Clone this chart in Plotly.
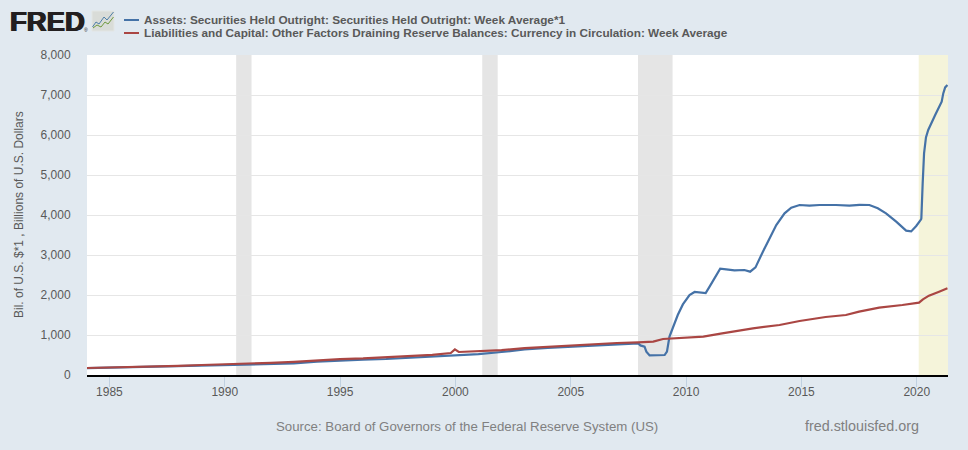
import pandas as pd
import plotly.graph_objects as go

W, H = 968, 450
L, R, T, B = 87, 948, 55, 375

blue_years = [1984.03, 1985, 1986, 1987, 1988, 1989, 1990, 1991, 1992, 1993, 1994, 1995, 1996, 1997, 1998, 1999,
              1999.98, 2000.5, 2001, 2002, 2003, 2004, 2005, 2006, 2007, 2007.93, 2008.02, 2008.2, 2008.28, 2008.42,
              2009.07, 2009.17, 2009.28, 2009.64, 2009.86, 2010.15, 2010.37, 2010.85, 2011.02, 2011.48, 2011.74,
              2012.1, 2012.53, 2012.78, 2013.01, 2013.33, 2013.91, 2014.27, 2014.56, 2014.92, 2015.35, 2015.79,
              2016.5, 2017.08, 2017.52, 2017.95, 2018.31, 2018.67, 2019.11, 2019.54, 2019.76, 2019.98, 2020.19,
              2020.2, 2020.26, 2020.32, 2020.4, 2020.5, 2020.8, 2021.08, 2021.15, 2021.23, 2021.33]
blue_values = [170, 182, 198, 213, 228, 240, 235, 255, 270, 290, 335, 368, 385, 400, 430, 460,
               500, 505, 520, 575, 640, 680, 705, 735, 770, 790, 740, 710, 585, 490,
               500, 585, 960, 1500, 1765, 2000, 2075, 2050, 2210, 2657, 2640,
               2617, 2625, 2583, 2690, 3083, 3750, 4042, 4183, 4250, 4233, 4250,
               4250, 4235, 4255, 4250, 4167, 4040, 3833, 3608, 3590, 3725, 3892,
               3917, 4790, 5540, 5940, 6125, 6500, 6833, 7040, 7190, 7250]

red_years = [1984.03, 1985, 1986, 1987, 1988, 1989, 1990, 1991, 1992, 1993, 1994, 1995, 1996, 1997, 1998, 1999,
             1999.8, 1999.98, 2000.15, 2001, 2002, 2003, 2004, 2005, 2006, 2007, 2007.93, 2008.58, 2009.0, 2010,
             2010.75, 2011.5, 2012.9, 2014.05, 2014.92, 2016.05, 2016.93, 2017.5, 2018.37, 2019.38, 2020.1,
             2020.27, 2020.53, 2020.97, 2021.33]
red_values = [175, 185, 200, 215, 230, 250, 265, 290, 305, 330, 365, 398, 415, 440, 475, 505,
              550, 640, 575, 590, 620, 670, 705, 745, 770, 800, 817, 833, 900, 933,
              960, 1033, 1167, 1250, 1350, 1450, 1500, 1583, 1683, 1750, 1808,
              1892, 1983, 2083, 2167]

x_tick_years = [1985, 1990, 1995, 2000, 2005, 2010, 2015, 2020]
y_tick_values = [0, 1000, 2000, 3000, 4000, 5000, 6000, 7000, 8000]
recessions = [("1990-07-01", "1991-03-01"), ("2001-03-01", "2001-11-01"), ("2007-12-01", "2009-06-01")]
highlight = ("2020-02-01", "2021-05-10")
x_range = ("1984-01-12", "2021-05-10")

series_1 = "Assets: Securities Held Outright: Securities Held Outright: Week Average*1"
series_2 = "Liabilities and Capital: Other Factors Draining Reserve Balances: Currency in Circulation: Week Average"
y_title = "Bil. of U.S. $*1 , Billions of U.S. Dollars"
source = "Source: Board of Governors of the Federal Reserve System (US)"
site = "fred.stlouisfed.org"

BG = "#e1e9f0"
BLUE = "#4572a7"
RED = "#aa4643"
TEXT = "#595959"
FONT = "Liberation Sans, Arial, sans-serif"


def to_dates(years):
    out = []
    for y in years:
        year = int(y)
        start = pd.Timestamp(year=year, month=1, day=1)
        out.append((start + pd.Timedelta(days=(y - year) * 365.25)).strftime("%Y-%m-%d"))
    return out


def px(x):
    return (x - L) / (R - L)


def py(y):
    return (B - y) / (B - T)


fig = go.Figure()
fig.add_trace(go.Scatter(x=to_dates(blue_years), y=blue_values, name=series_1, mode="lines",
                         line=dict(color=BLUE, width=2.2)))
fig.add_trace(go.Scatter(x=to_dates(red_years), y=red_values, name=series_2, mode="lines",
                         line=dict(color=RED, width=2.2)))

shapes = []
for a, b in recessions:
    shapes.append(dict(type="rect", xref="x", yref="paper", x0=a, x1=b, y0=0, y1=1,
                       fillcolor="#e5e5e5", line_width=0, layer="below"))
shapes.append(dict(type="rect", xref="x", yref="paper", x0=highlight[0], x1=highlight[1], y0=0, y1=1,
                   fillcolor="#f5f4da", line_width=0, layer="below"))

# legend keys
shapes.append(dict(type="line", xref="paper", yref="paper", x0=px(124), x1=px(139), y0=py(20), y1=py(20),
                   line=dict(color=BLUE, width=2)))
shapes.append(dict(type="line", xref="paper", yref="paper", x0=px(124), x1=px(139), y0=py(33), y1=py(33),
                   line=dict(color=RED, width=2)))
# logo icon
shapes.append(dict(type="rect", xref="paper", yref="paper", x0=px(92), x1=px(114), y0=py(31), y1=py(11),
                   fillcolor="#d9dcd8", line=dict(color="#e3e6e4", width=1)))


def path(points):
    return "M " + " L ".join(f"{px(a)} {py(b)}" for a, b in points)


shapes.append(dict(type="path", xref="paper", yref="paper",
                   path=path([(92.5, 27), (96, 22), (99, 24), (104, 17), (107, 20), (113.5, 12)]),
                   line=dict(color="#4f7fa8", width=1)))
shapes.append(dict(type="path", xref="paper", yref="paper",
                   path=path([(93, 28), (97, 25), (101, 27), (105, 22), (108, 24), (113.5, 17)]),
                   line=dict(color="#6f9a3e", width=1)))

annotations = [
    dict(text=f"<b>{series_1}</b>", x=px(144), y=py(20), xanchor="left", yanchor="middle",
         font=dict(size=11.8, color=TEXT)),
    dict(text=f"<b>{series_2}</b>", x=px(144), y=py(33), xanchor="left", yanchor="middle",
         font=dict(size=11.75, color=TEXT)),
    dict(text="<b>FRED</b>", x=px(10), y=py(21), xanchor="left", yanchor="middle",
         font=dict(size=27.5, color="#231f20", shadow="0.7px 0 0 #231f20, -0.7px 0 0 #231f20")),
    dict(text="®", x=px(86), y=py(29.5), xanchor="center", yanchor="middle",
         font=dict(size=5, color="#231f20")),
    dict(text=y_title, x=px(19), y=py(215), textangle=-90, xanchor="center", yanchor="middle",
         font=dict(size=12, color=TEXT)),
    dict(text=source, x=px(276), y=py(426), xanchor="left", yanchor="middle",
         font=dict(size=13.25, color="#808080")),
    dict(text=site, x=px(805), y=py(426), xanchor="left", yanchor="middle",
         font=dict(size=14.35, color="#808080")),
]
for a in annotations:
    a.update(xref="paper", yref="paper", showarrow=False, borderpad=0, borderwidth=0)

fig.update_layout(
    width=W, height=H, autosize=False,
    margin=dict(l=L, r=W - R, t=T, b=H - B, pad=0),
    paper_bgcolor=BG, plot_bgcolor="#ffffff",
    font=dict(family=FONT, size=12, color=TEXT),
    showlegend=False,
    shapes=shapes,
    annotations=annotations,
    xaxis=dict(type="date", range=list(x_range),
               tickmode="array", tickvals=[f"{y}-01-01" for y in x_tick_years],
               ticktext=[str(y) for y in x_tick_years],
               ticks="outside", ticklen=10, tickcolor="#c0d0e0", tickwidth=1, ticklabelstandoff=-5,
               showgrid=False, zeroline=False, showline=True, linecolor="#000000", linewidth=2,
               tickfont=dict(size=12, color=TEXT)),
    yaxis=dict(range=[0, 8000], tickmode="array", tickvals=y_tick_values,
               ticktext=[f"{v:,}" for v in y_tick_values],
               ticks="outside", ticklen=13, tickcolor=BG, tickwidth=1,
               showgrid=True, gridcolor="#e6e6e6", gridwidth=1, zeroline=False, showline=False,
               tickfont=dict(size=12, color=TEXT)),
)

fig.write_html("out.html", config=dict(displayModeBar=False), post_script="document.body.style.margin='0';")
